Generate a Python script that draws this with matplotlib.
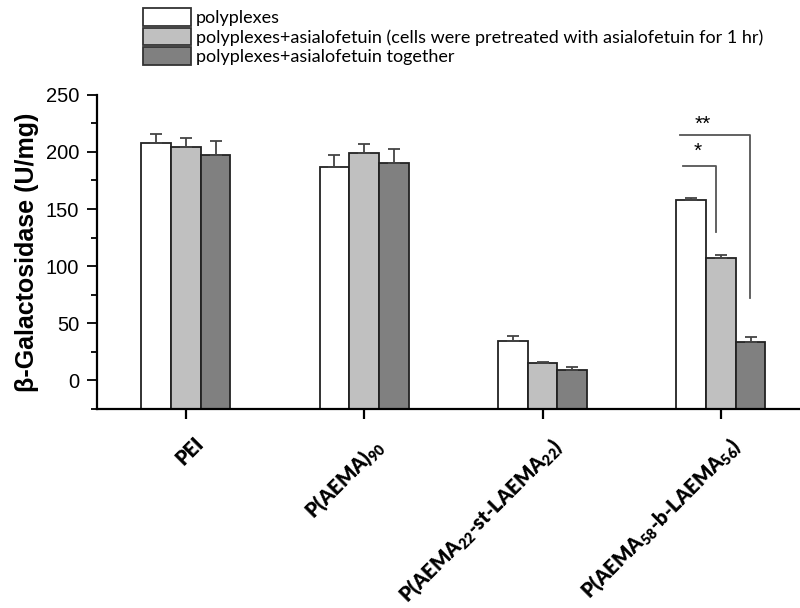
import numpy as np
import matplotlib
matplotlib.use("Agg")
import matplotlib.pyplot as plt
from matplotlib.patches import Patch
from matplotlib.ticker import MultipleLocator
from matplotlib.transforms import ScaledTranslation

# ---- data -------------------------------------------------------------
groups = ["PEI",
          "P(AEMA)$_{90}$",
          "P(AEMA$_{22}$-st-LAEMA$_{22}$)",
          "P(AEMA$_{58}$-b-LAEMA$_{56}$)"]
series_names = ["polyplexes",
                "polyplexes+asialofetuin (cells were pretreated with asialofetuin for 1 hr)",
                "polyplexes+asialofetuin together"]
polyplexes = [207.5, 187.0, 34.2, 157.5]
polyplexes_err = [8.5, 10.5, 4.7, 2.5]
pretreated = [204.4, 199.4, 14.9, 107.2]
pretreated_err = [7.4, 7.4, 1.0, 2.6]
together = [197.4, 190.1, 9.3, 33.3]
together_err = [12.0, 12.3, 2.7, 5.0]
yticks = [0, 50, 100, 150, 200, 250]
sig_labels = ["*", "**"]

# ---- style ------------------------------------------------------------
plt.rcParams["mathtext.fontset"] = "custom"
plt.rcParams["mathtext.rm"] = "Lato:heavy"
plt.rcParams["mathtext.it"] = "Lato:heavy"
plt.rcParams["mathtext.bf"] = "Lato:heavy"
plt.rcParams["mathtext.default"] = "regular"

fill_colors = ["#ffffff", "#c0c0c0", "#808080"]
edge_color = "#222222"
err_color = "#444444"
y_min, y_max = -25, 250

fig = plt.figure(figsize=(8, 6.08), dpi=100)
ax = fig.add_axes([0.1209, 0.3273, 0.8916, 0.5169])

x = np.arange(len(groups))
width = 1 / 6
series = [(polyplexes, polyplexes_err),
          (pretreated, pretreated_err),
          (together, together_err)]
for k, (vals, errs) in enumerate(series):
    pos = x + (k - 1) * width
    vals = np.asarray(vals, dtype=float)
    ax.bar(pos, vals - y_min, bottom=y_min, width=width,
           color=fill_colors[k], edgecolor=edge_color, linewidth=1.3,
           zorder=2)
    ax.errorbar(pos, vals, yerr=[np.zeros_like(vals), errs], fmt="none",
                ecolor=err_color, elinewidth=1.3, capsize=4, capthick=1.3,
                zorder=3)

# significance brackets on the last group
g = x[-1]
br_color = "#555555"
# '*' : polyplexes vs pretreated
ax.plot([g - 0.213, g - 0.026, g - 0.026], [187.8, 187.8, 130.0],
        color=br_color, lw=1.3, zorder=4)
ax.text(g - 0.132, 200.5, sig_labels[0], ha="center", va="center",
        fontsize=15, family="Liberation Sans")
# '**' : polyplexes vs together
ax.plot([g - 0.228, g + 0.165, g + 0.165], [214.4, 214.4, 72.0],
        color=br_color, lw=1.3, zorder=4)
ax.text(g - 0.104, 224.0, sig_labels[1], ha="center", va="center",
        fontsize=15, family="Liberation Sans")

# ---- axes -------------------------------------------------------------
ax.set_xlim(-0.5, 3.5)
ax.set_ylim(y_min, y_max)
for side in ("top", "right"):
    ax.spines[side].set_visible(False)
for side in ("left", "bottom"):
    ax.spines[side].set_linewidth(1.6)

ax.set_yticks(yticks)
ax.yaxis.set_minor_locator(MultipleLocator(25))
ax.tick_params(axis="y", which="major", direction="out", length=7.5,
               width=1.3, labelsize=14.5, pad=5)
ax.tick_params(axis="y", which="minor", direction="out", length=4.5,
               width=1.3)
for lab in ax.get_yticklabels():
    lab.set_family("Liberation Sans")

ax.set_xticks(x)
ax.set_xticklabels(groups, rotation=45, ha="right", va="top",
                   rotation_mode="anchor", fontsize=14.5,
                   family="Lato", fontweight="heavy")
ax.tick_params(axis="x", direction="out", length=7, width=1.6, pad=0)
shift = ScaledTranslation(0.08, -0.15, fig.dpi_scale_trans)
for lab in ax.get_xticklabels():
    lab.set_transform(lab.get_transform() + shift)

ax.set_ylabel("β-Galactosidase (U/mg)", fontsize=18, fontweight="bold",
              family="Liberation Sans", labelpad=5)

# ---- legend -----------------------------------------------------------
handles = [Patch(facecolor=c, edgecolor="#333333", linewidth=1.3)
           for c in fill_colors]
fig.legend(handles, series_names, loc="upper left",
           bbox_to_anchor=(143 / 800, 1 - 8 / 608),
           frameon=False, borderpad=0, borderaxespad=0,
           handlelength=2.65, handleheight=1.12, handletextpad=0.28,
           labelspacing=0.1,
           prop={"family": "Lato", "size": 13})

fig.savefig("out.png", dpi=100)
